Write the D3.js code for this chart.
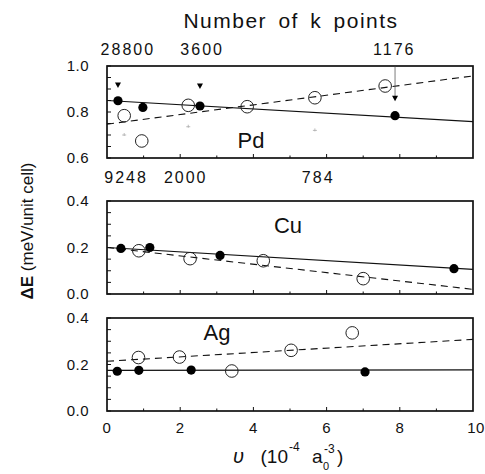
<!DOCTYPE html>
<html lang="en">
  <head>
    <meta charset="UTF-8" />
    <title>Delta E vs k points</title>
    <script src="https://cdn.jsdelivr.net/npm/d3@7"></script>
    <style>
      body { margin: 0; background: #fff; }
      text { font-family: "Liberation Sans", Arial, sans-serif; fill: #111; }
    </style>
  </head>
  <body>
    <script>
      const width = 485;
      const height = 474;

      // Pd panel values (x in 10^-4 a0^-3, y in meV/unit cell)
      const pdFilled = [[0.3, 0.849], [0.98, 0.82], [2.54, 0.826], [7.87, 0.784]];
      const pdOpen = [[0.47, 0.784], [0.95, 0.674], [2.22, 0.829], [3.83, 0.823], [5.68, 0.862], [7.6, 0.913]];
      const pdTriangles = [[0.3, 0.917], [2.54, 0.913], [7.87, 0.86]];
      const pdFaint = [[0.47, 0.70], [2.22, 0.736], [5.68, 0.72]];
      const pdSolid = [[0, 0.85], [10, 0.758]];
      const pdDashed = [[0, 0.747], [10, 0.957]];

      // Cu panel values
      const cuFilled = [[0.38, 0.196], [1.17, 0.2], [3.09, 0.166], [9.48, 0.109]];
      const cuOpen = [[0.87, 0.186], [2.27, 0.152], [4.27, 0.143], [7.0, 0.066]];
      const cuSolid = [[0, 0.2], [10, 0.106]];
      const cuDashed = [[0, 0.2], [10, 0.02]];

      // Ag panel values
      const agFilled = [[0.28, 0.171], [0.87, 0.175], [2.3, 0.176], [7.05, 0.168]];
      const agOpen = [[0.86, 0.23], [1.98, 0.232], [3.41, 0.172], [5.03, 0.261], [6.7, 0.336]];
      const agSolid = [[0, 0.175], [10, 0.177]];
      const agDashed = [[0, 0.214], [10, 0.308]];

      // k point labels: [position on x, label]
      const kTopRow = [[0.57, "28800"], [2.6, "3600"], [7.85, "1176"]];
      const kMidRow = [[0.52, "9248"], [2.15, "2000"], [5.77, "784"]];

      const xTicks = [0, 2, 4, 6, 8, 10];

      const svg = d3
        .select("body")
        .append("svg")
        .attr("width", width)
        .attr("height", height);

      const x = d3.scaleLinear().domain([0, 10]).range([107, 473]);

      const panels = [
        {
          name: "Pd", top: 66, bottom: 158, domain: [0.6, 1.0],
          ticks: [0.6, 0.8, 1.0], label: [251, 148],
          filled: pdFilled, open: pdOpen, solid: pdSolid, dashed: pdDashed,
        },
        {
          name: "Cu", top: 201, bottom: 294, domain: [0, 0.4],
          ticks: [0, 0.2, 0.4], label: [288, 233],
          filled: cuFilled, open: cuOpen, solid: cuSolid, dashed: cuDashed,
        },
        {
          name: "Ag", top: 318, bottom: 411, domain: [0, 0.4],
          ticks: [0, 0.2, 0.4], label: [217, 340],
          filled: agFilled, open: agOpen, solid: agSolid, dashed: agDashed,
        },
      ];

      panels.forEach((p) => {
        const y = d3.scaleLinear().domain(p.domain).range([p.bottom, p.top]);
        p.y = y;
        const g = svg.append("g");

        // clip lines to the frame
        const clipId = `clip-${p.name}`;
        g.append("clipPath")
          .attr("id", clipId)
          .append("rect")
          .attr("x", x(0))
          .attr("y", p.top)
          .attr("width", x(10) - x(0))
          .attr("height", p.bottom - p.top);

        // frame
        g.append("rect")
          .attr("x", x(0))
          .attr("y", p.top)
          .attr("width", x(10) - x(0))
          .attr("height", p.bottom - p.top)
          .attr("fill", "none")
          .attr("stroke", "#111")
          .attr("stroke-width", 1.7);

        // inward minor ticks on the left
        const minor = d3.range(p.domain[0], p.domain[1] + 1e-9, 0.05);
        g.selectAll(".ytick")
          .data(minor)
          .join("line")
          .attr("x1", x(0))
          .attr("x2", x(0) + 4)
          .attr("y1", (d) => y(d))
          .attr("y2", (d) => y(d))
          .attr("stroke", "#111")
          .attr("stroke-width", 1);

        // inward ticks on the bottom
        g.selectAll(".xtick")
          .data(d3.range(1, 10))
          .join("line")
          .attr("x1", (d) => x(d))
          .attr("x2", (d) => x(d))
          .attr("y1", p.bottom)
          .attr("y2", (d) => p.bottom - (d % 2 === 0 ? 4 : 2.5))
          .attr("stroke", "#111")
          .attr("stroke-width", 1);

        // y tick labels
        g.selectAll(".ylab")
          .data(p.ticks)
          .join("text")
          .attr("x", 89)
          .attr("y", (d) => y(d) + 5)
          .attr("text-anchor", "end")
          .attr("font-size", 15)
          .attr("letter-spacing", 0.5)
          .text((d) => d.toFixed(1));

        const line = d3.line().x((d) => x(d[0])).y((d) => y(d[1]));

        g.append("path")
          .attr("d", line(p.solid))
          .attr("clip-path", `url(#${clipId})`)
          .attr("fill", "none")
          .attr("stroke", "#111")
          .attr("stroke-width", 1.2);

        g.append("path")
          .attr("d", line(p.dashed))
          .attr("clip-path", `url(#${clipId})`)
          .attr("fill", "none")
          .attr("stroke", "#111")
          .attr("stroke-width", 1.1)
          .attr("stroke-dasharray", "7,5");

        g.selectAll(".open")
          .data(p.open)
          .join("circle")
          .attr("cx", (d) => x(d[0]))
          .attr("cy", (d) => y(d[1]))
          .attr("r", 6.3)
          .attr("fill", "none")
          .attr("stroke", "#222")
          .attr("stroke-width", 1);

        g.selectAll(".filled")
          .data(p.filled)
          .join("circle")
          .attr("cx", (d) => x(d[0]))
          .attr("cy", (d) => y(d[1]))
          .attr("r", 4.6)
          .attr("fill", "#000");

        g.append("text")
          .attr("x", p.label[0])
          .attr("y", p.label[1])
          .attr("text-anchor", "middle")
          .attr("font-size", 22)
          .text(p.name);
      });

      // Pd extras: triangles, arrow line, faint marks
      const pd = panels[0];
      svg.append("line")
        .attr("x1", x(pdTriangles[2][0]))
        .attr("x2", x(pdTriangles[2][0]))
        .attr("y1", pd.top)
        .attr("y2", pd.y(pdTriangles[2][1]))
        .attr("stroke", "#444")
        .attr("stroke-width", 0.7);

      svg.selectAll(".tri")
        .data(pdTriangles)
        .join("path")
        .attr("transform", (d) => `translate(${x(d[0])},${pd.y(d[1])})`)
        .attr("d", "M-3,-2.5L3,-2.5L0,3Z")
        .attr("fill", "#000");

      svg.selectAll(".faint")
        .data(pdFaint)
        .join("path")
        .attr("transform", (d) => `translate(${x(d[0])},${pd.y(d[1])})`)
        .attr("d", "M-2,0L2,0M0,-2L0,1")
        .attr("stroke", "#aaa")
        .attr("stroke-width", 0.8);

      // x tick labels
      svg.selectAll(".xlab")
        .data(xTicks)
        .join("text")
        .attr("x", (d) => x(d) + (d === 10 ? 3 : 0))
        .attr("y", 433)
        .attr("text-anchor", "middle")
        .attr("font-size", 15)
        .attr("letter-spacing", 0.5)
        .text((d) => d);

      // k point labels
      svg.selectAll(".ktop")
        .data(kTopRow)
        .join("text")
        .attr("x", (d) => x(d[0]))
        .attr("y", 55)
        .attr("text-anchor", "middle")
        .attr("font-size", 16)
        .attr("letter-spacing", 2)
        .text((d) => d[1]);

      svg.selectAll(".kmid")
        .data(kMidRow)
        .join("text")
        .attr("x", (d) => x(d[0]))
        .attr("y", 183)
        .attr("text-anchor", "middle")
        .attr("font-size", 16)
        .attr("letter-spacing", 2)
        .text((d) => d[1]);

      svg.append("text")
        .attr("x", 291)
        .attr("y", 28)
        .attr("text-anchor", "middle")
        .attr("font-size", 21)
        .attr("letter-spacing", 1.5)
        .attr("word-spacing", 4)
        .text("Number of k points");

      // y axis title
      const yTitle = svg.append("text")
        .attr("transform", "translate(33,231) rotate(-90)")
        .attr("text-anchor", "middle")
        .attr("font-size", 17);
      yTitle.append("tspan").attr("font-weight", "bold").text("ΔE");
      yTitle.append("tspan").text(" (meV/unit cell)");

      // x axis title, sub/superscripts as separate texts
      svg.append("text")
        .attr("x", 233)
        .attr("y", 463)
        .attr("font-size", 20)
        .attr("font-style", "italic")
        .text("υ");
      svg.append("text")
        .attr("x", 288)
        .attr("y", 463)
        .attr("text-anchor", "end")
        .attr("font-size", 19)
        .text("(10");
      svg.append("text")
        .attr("x", 289)
        .attr("y", 451)
        .attr("font-size", 12)
        .text("-4");
      svg.append("text")
        .attr("x", 312)
        .attr("y", 463)
        .attr("font-size", 19)
        .text("a");
      svg.append("text")
        .attr("x", 323)
        .attr("y", 470)
        .attr("font-size", 11)
        .text("0");
      svg.append("text")
        .attr("x", 324)
        .attr("y", 453)
        .attr("font-size", 12)
        .text("-3");
      svg.append("text")
        .attr("x", 337)
        .attr("y", 463)
        .attr("font-size", 19)
        .text(")");
    </script>
  </body>
</html>
